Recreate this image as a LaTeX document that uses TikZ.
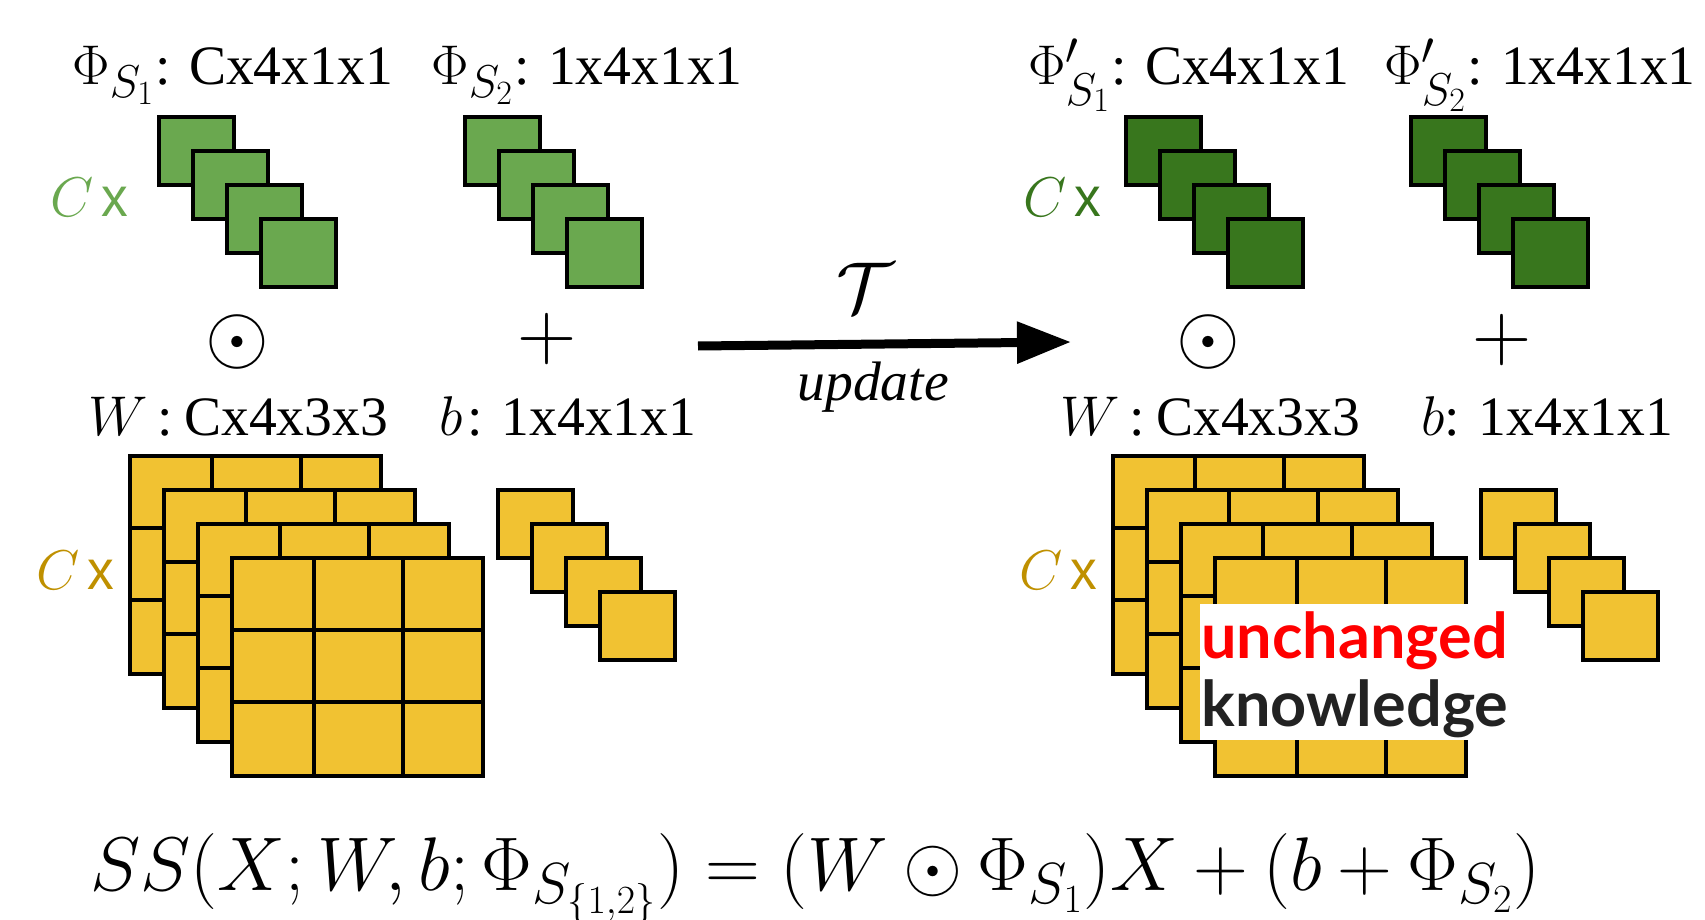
\documentclass[tikz,border=0pt]{standalone}
\usepackage{fix-cm}
\usepackage{amsmath, amssymb}
\usepackage{fontspec}
\setmainfont{Liberation Serif}
\newfontfamily\plainsans[FakeStretch=0.96]{Liberation Sans}
\newfontfamily\notefont{Lato}
\usetikzlibrary{arrows.meta, positioning}
\definecolor{phigreen}{HTML}{6AA84F}
\definecolor{phidark}{HTML}{38761D}
\definecolor{weightyellow}{HTML}{F1C232}
\definecolor{weightgold}{HTML}{BF9000}
\definecolor{noteblack}{HTML}{222222}
\DeclareMathSizes{27.8}{28}{23}{17}
\DeclareMathSizes{38}{38}{29}{20}
\newcommand{\dimfont}{\fontsize{27.8}{32}\selectfont}
\newcommand{\bigfont}{\fontsize{41}{46}\selectfont}
\newcommand{\notesize}{\notefont\bfseries\fontsize{31.5}{36}\selectfont}
\tikzset{
  >=Triangle,
  % Tensori
  cell/.style={draw=black,line width=2pt,line join=miter},
  small stack/.pic={
    \path[cell,fill=#1] (0,0) rectangle +(75,68);
    \path[cell,fill=#1] (34,34) rectangle +(75,68);
    \path[cell,fill=#1] (68,68) rectangle +(75,68);
    \path[cell,fill=#1] (102,102) rectangle +(75,68);
  },
  grid card/.pic={
    \path[cell,fill=weightyellow] (0,0) rectangle (251,218);
    \draw[cell] (82,0) -- (82,218) (171,0) -- (171,218);
    \draw[cell] (0,72) -- (251,72) (0,144) -- (251,144);
  },
  big stack/.pic={
    \pic at (0,0) {grid card};
    \pic at (34,34) {grid card};
    \pic at (68,68) {grid card};
    \pic at (102,102) {grid card};
  },
  % Testi
  dim/.style={anchor=base west,inner sep=0,font=\dimfont},
  oper/.style={inner sep=0,font=\bigfont},
  count/.style={anchor=base west,inner sep=0,font=\dimfont,text=#1},
  note/.style={anchor=base west,inner sep=0,font=\notesize,text=#1}
}
\begin{document}
\begin{tikzpicture}[x=0.5pt, y=-0.5pt]
  \useasboundingbox (0,0) rectangle (1705,920);

  \pic at (159,117) {small stack=phigreen};
  \pic at (465,117) {small stack=phigreen};
  \pic at (1126,117) {small stack=phidark};
  \pic at (1411,117) {small stack=phidark};
  \pic at (129.5,456) {big stack};
  \pic at (1113,456) {big stack};
  \pic at (498,490) {small stack=weightyellow};
  \pic at (1481,490) {small stack=weightyellow};

  \node[dim] (phi one) at (72,85) {$\Phi_{S_1}$: Cx4x1x1};
  \node[dim] (phi two) at (431,85) {$\Phi_{S_2}$: 1x4x1x1};
  \node[dim] (phi one new) at (1028,85) {$\Phi'_{S_1}$: Cx4x1x1};
  \node[dim] (phi two new) at (1384,85) {$\Phi'_{S_2}$: 1x4x1x1};
  \node[dim] (w left) at (88,435) {$W$\hspace{5pt}:\hspace{5.5pt}Cx4x3x3};
  \node[dim] (b left) at (439,435) {$b$\hspace{2.5pt}: 1x4x1x1};
  \node[dim] (w right) at (1060,435) {$W$\hspace{5pt}:\hspace{5.5pt}Cx4x3x3};
  \node[dim] (b right) at (1421,435) {$b$: 1x4x1x1};

  \node[count=phigreen] (c green) at (50,217) {$C$\hspace{4pt}{\plainsans x}};
  \node[count=phidark] (c dark) at (1023,217) {$C$\hspace{4pt}{\plainsans x}};
  \node[count=weightgold] (c yellow) at (36,589) {$C$\hspace{4pt}{\plainsans x}};
  \node[count=weightgold] (c yellow new) at (1019,589) {$C$\hspace{4pt}{\plainsans x}};

  \node[oper] (odot left) at (237.5,342) {$\odot$};
  \node[oper] (plus left) at (547,339) {$+$};
  \node[oper] (odot right) at (1208,342) {$\odot$};
  \node[oper] (plus right) at (1502,340) {$+$};

  \coordinate (update start) at (698,346);
  \coordinate (update end) at (1071,342);
  \draw[-{Triangle[length=27pt,width=20pt]},line width=4.5pt] (update start) -- (update end);
  \node[oper,font=\fontsize{36}{40}\selectfont] (tau) at (865,288) {$\mathcal{T}$};
  \node[dim] (update) at (797,400) {\textit{update}};

  \node[fill=white,inner sep=0,minimum width=155pt,minimum height=68pt] (note box) at (1355,672) {};
  \node[note=red] (unchanged) at (1201,658) {unchanged};
  \node[note=noteblack] (knowledge) at (1201,726) {knowledge};

  \node[anchor=base west,inner sep=0,font=\fontsize{38}{44}\selectfont] (formula) at (90,890)
    {$\medmuskip=3.6mu SS(X;W,b;\Phi_{S_{\{1,2\}}})=(W\odot\Phi_{S_1})X+(b+\Phi_{S_2})$};
\end{tikzpicture}
\end{document}
